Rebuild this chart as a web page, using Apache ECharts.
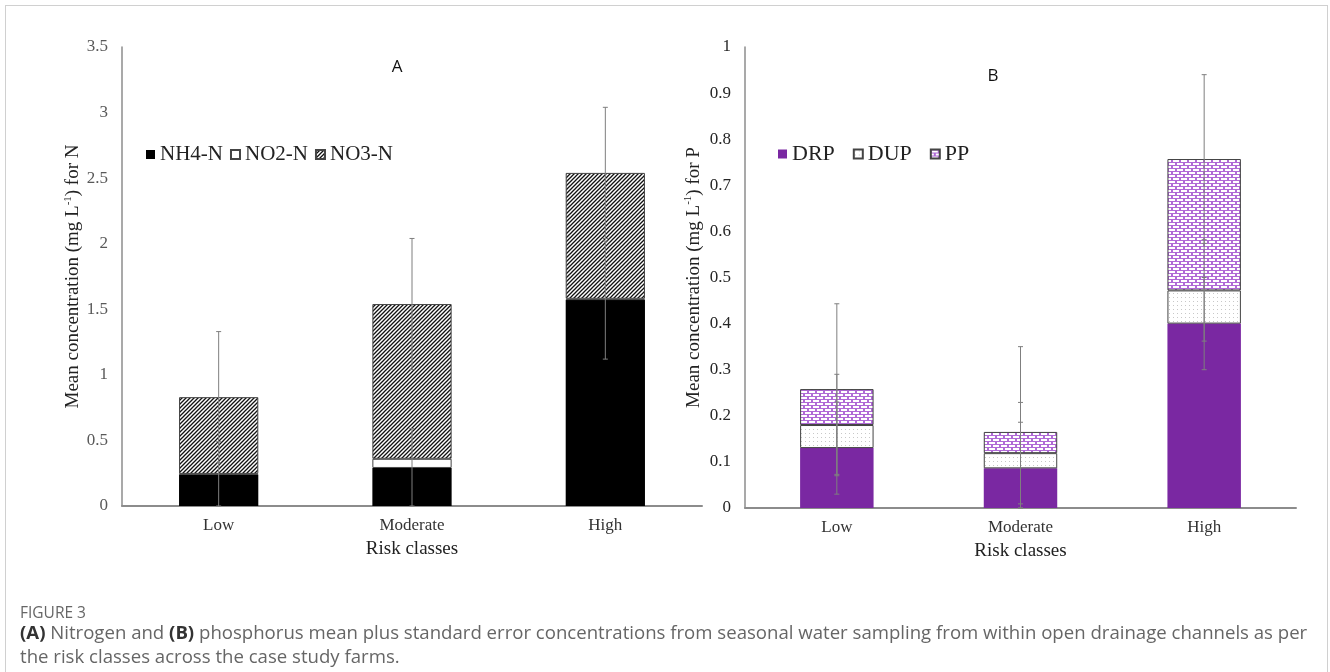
<!DOCTYPE html>
<html>
<head>
<meta charset="utf-8">
<script src="https://cdn.jsdelivr.net/npm/echarts@6/dist/echarts.min.js"></script>
<style>
  html, body { margin: 0; padding: 0; background: #fff; }
  #frame { position: absolute; left: 5px; top: 5px; width: 1321px; height: 700px; border: 1px solid #d0d0d0; }
  #chart { position: absolute; left: 0; top: 0; width: 1330px; height: 672px; }
</style>
</head>
<body>
<div id="frame"></div>
<div id="chart"></div>
<script>
var riskClasses = ['Low', 'Moderate', 'High'];

// panel A - nitrogen, mg/L (stacked)
var nh4 = [0.24, 0.29, 1.57];
var no2 = [0.005, 0.07, 0.01];
var no3 = [0.585, 1.18, 0.96];
var nh4Err = [0.25, 0.30, 0.45];
var no2Err = [0, 0, 0];
var no3Err = [0.50, 0.50, 0.50];

// panel B - phosphorus, mg/L (stacked)
var drp = [0.13, 0.086, 0.40];
var dup = [0.05, 0.033, 0.072];
var pp = [0.078, 0.046, 0.285];
var drpErr = [0.10, 0.10, 0.10];
var dupErr = [0.11, 0.11, 0.11];
var ppErr = [0.185, 0.185, 0.183];

var serif = 'Liberation Serif';
var sans = 'Open Sans';

function makePattern(w, h, draw) {
  var c = document.createElement('canvas');
  c.width = w; c.height = h;
  draw(c.getContext('2d'));
  return { image: c, repeat: 'repeat' };
}

var hatch = makePattern(4, 4, function (ctx) {
  ctx.fillStyle = '#fff';
  ctx.fillRect(0, 0, 4, 4);
  ctx.strokeStyle = '#111';
  ctx.lineWidth = 1.3;
  ctx.beginPath();
  ctx.moveTo(-1, 5); ctx.lineTo(5, -1);
  ctx.moveTo(-1, 1); ctx.lineTo(1, -1);
  ctx.moveTo(3, 5); ctx.lineTo(5, 3);
  ctx.stroke();
});

var dots = makePattern(4, 4, function (ctx) {
  ctx.fillStyle = '#fff';
  ctx.fillRect(0, 0, 4, 4);
  ctx.fillStyle = '#c8c8c8';
  ctx.fillRect(1, 1, 1, 1);
});

// brick-like purple fill for PP
var bricks = makePattern(8, 6, function (ctx) {
  ctx.fillStyle = '#b06ad6';
  ctx.fillRect(0, 0, 8, 6);
  ctx.fillStyle = '#fff';
  ctx.fillRect(1, 1, 6, 2);
  ctx.fillRect(0, 4, 3, 2);
  ctx.fillRect(5, 4, 3, 2);
});

function barSeries(name, data, idx, color, border, width) {
  return {
    name: name, type: 'bar', stack: 'p' + idx,
    xAxisIndex: idx, yAxisIndex: idx,
    data: data, barWidth: width,
    itemStyle: { color: color, borderColor: border || color, borderWidth: border ? 1 : 0 }
  };
}

function errData(layers, errs) {
  var out = [];
  for (var i = 0; i < riskClasses.length; i++) {
    var top = 0;
    for (var k = 0; k < layers.length; k++) {
      top += layers[k][i];
      if (errs[k][i] > 0) out.push([i, Math.max(0, top - errs[k][i]), top + errs[k][i]]);
    }
  }
  return out;
}

function errSeries(data, idx) {
  return {
    type: 'custom', xAxisIndex: idx, yAxisIndex: idx, data: data, z: 5, silent: true,
    encode: { x: 0, y: [1, 2] },
    renderItem: function (params, api) {
      var lo = api.coord([api.value(0), api.value(1)]);
      var hi = api.coord([api.value(0), api.value(2)]);
      var st = { stroke: '#7f7f7f', lineWidth: 1 };
      var c = 2.5;
      return {
        type: 'group',
        children: [
          { type: 'line', shape: { x1: hi[0], y1: hi[1], x2: lo[0], y2: lo[1] }, style: st },
          { type: 'line', shape: { x1: hi[0] - c, y1: hi[1], x2: hi[0] + c, y2: hi[1] }, style: st },
          { type: 'line', shape: { x1: lo[0] - c, y1: lo[1], x2: lo[0] + c, y2: lo[1] }, style: st }
        ]
      };
    }
  };
}

function xAxisCfg(idx) {
  return {
    type: 'category', gridIndex: idx, data: riskClasses,
    axisLine: { lineStyle: { color: '#8c8c8c', width: 2 } },
    axisTick: { show: false },
    axisLabel: { color: '#333', fontFamily: serif, fontSize: 17, margin: 11 },
    name: 'Risk classes', nameLocation: 'middle', nameGap: 34,
    nameTextStyle: { color: '#222', fontFamily: serif, fontSize: 19 }
  };
}

function yAxisCfg(idx, max, interval, labelColor, nm, gap) {
  return {
    type: 'value', gridIndex: idx, min: 0, max: max, interval: interval,
    axisLine: { show: true, lineStyle: { color: '#8c8c8c', width: 1.5 } },
    axisTick: { show: false },
    splitLine: { show: false },
    axisLabel: {
      color: labelColor, fontFamily: serif, fontSize: 17, margin: 14,
      formatter: function (v) { return '{n|' + (+v.toFixed(2)) + '}'; },
      rich: { n: { fontFamily: serif, fontSize: 17, color: labelColor } }
    },
    name: '{t|Mean concentration (mg L}{s|-1}{t|) for ' + nm + '}',
    nameLocation: 'middle', nameGap: gap,
    nameTextStyle: {
      color: '#222', fontFamily: serif, fontSize: 19,
      rich: {
        t: { fontFamily: serif, fontSize: 19, color: '#222', lineHeight: 22 },
        s: { fontFamily: serif, fontSize: 11, color: '#222', lineHeight: 22, verticalAlign: 'top' }
      }
    }
  };
}

var option = {
  backgroundColor: 'transparent',
  animation: false,
  textStyle: { fontFamily: serif },
  grid: [
    { left: 122, top: 47, right: 628, bottom: 166 },
    { left: 745, top: 47, right: 34, bottom: 164 }
  ],
  xAxis: [xAxisCfg(0), xAxisCfg(1)],
  yAxis: [
    yAxisCfg(0, 3.5, 0.5, '#595959', 'N', 36),
    yAxisCfg(1, 1, 0.1, '#262626', 'P', 40)
  ],
  legend: [
    {
      data: ['NH4-N', 'NO2-N', 'NO3-N'], left: 141, top: 139,
      itemWidth: 9, itemHeight: 9, itemGap: 7,
      textStyle: { fontFamily: serif, fontSize: 21, color: '#222' },
      icon: 'rect'
    },
    {
      data: ['DRP', 'DUP', 'PP'], left: 773, top: 138,
      itemWidth: 9, itemHeight: 9, itemGap: 18,
      textStyle: { fontFamily: serif, fontSize: 22, color: '#222' },
      icon: 'rect'
    }
  ],
  graphic: [
    { type: 'text', x: 397, y: 67, style: { text: 'A', font: '17px "Open Sans", sans-serif', fill: '#111', align: 'center', verticalAlign: 'middle' } },
    { type: 'text', x: 993, y: 76, style: { text: 'B', font: '17px "Open Sans", sans-serif', fill: '#111', align: 'center', verticalAlign: 'middle' } },
    { type: 'text', x: 20, y: 614, style: { text: 'FIGURE 3', font: '15.5px "Open Sans", sans-serif', fill: '#666', verticalAlign: 'middle' } },
    {
      type: 'text', x: 20, y: 634,
      style: {
        text: '{b|(A)} Nitrogen and {b|(B)} phosphorus mean plus standard error concentrations from seasonal water sampling from within open drainage channels as per',
        font: '18.6px "Open Sans", sans-serif', fill: '#666', verticalAlign: 'middle',
        rich: { b: { fontWeight: 'bold', fontFamily: sans, fontSize: 18.6, fill: '#333' } }
      }
    },
    { type: 'text', x: 20, y: 658, style: { text: 'the risk classes across the case study farms.', font: '18.6px "Open Sans", sans-serif', fill: '#666', verticalAlign: 'middle' } }
  ],
  series: [
    barSeries('NH4-N', nh4, 0, '#000', null, '41%'),
    barSeries('NO2-N', no2, 0, '#fff', '#444', '41%'),
    barSeries('NO3-N', no3, 0, hatch, '#444', '41%'),
    errSeries(errData([nh4, no2, no3], [nh4Err, no2Err, no3Err]), 0),
    barSeries('DRP', drp, 1, '#7a28a2', null, '40%'),
    barSeries('DUP', dup, 1, dots, '#444', '40%'),
    barSeries('PP', pp, 1, bricks, '#444', '40%'),
    errSeries(errData([drp, dup, pp], [drpErr, dupErr, ppErr]), 1)
  ]
};

var chart = echarts.init(document.getElementById('chart'));
chart.setOption(option);
</script>
</body>
</html>
